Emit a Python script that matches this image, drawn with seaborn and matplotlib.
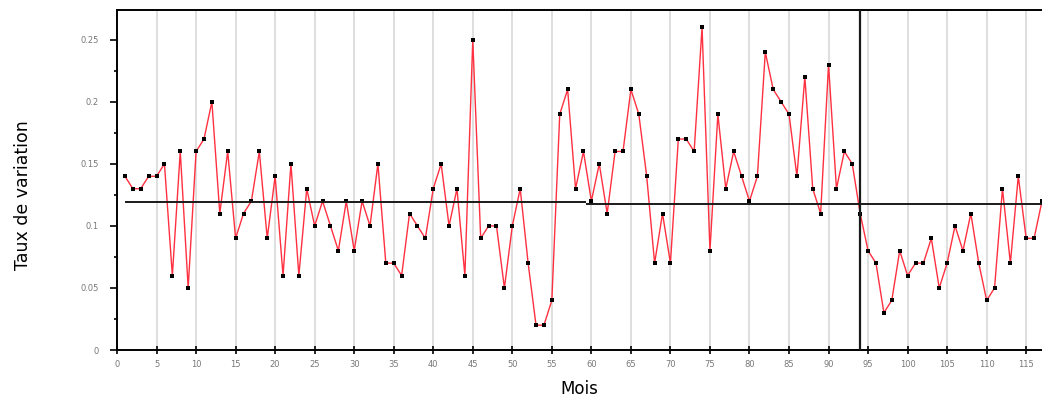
import numpy as np
import pandas as pd
import matplotlib
matplotlib.use("Agg")
import matplotlib.pyplot as plt
import seaborn as sns

# ---- data ----
months = list(range(1, 118))
rates = [
    0.14, 0.13, 0.13, 0.14, 0.14, 0.15, 0.06, 0.16, 0.05, 0.16,   # 1-10
    0.17, 0.20, 0.11, 0.16, 0.09, 0.11, 0.12, 0.16, 0.09, 0.14,   # 11-20
    0.06, 0.15, 0.06, 0.13, 0.10, 0.12, 0.10, 0.08, 0.12, 0.08,   # 21-30
    0.12, 0.10, 0.15, 0.07, 0.07, 0.06, 0.11, 0.10, 0.09, 0.13,   # 31-40
    0.15, 0.10, 0.13, 0.06, 0.25, 0.09, 0.10, 0.10, 0.05, 0.10,   # 41-50
    0.13, 0.07, 0.02, 0.02, 0.04, 0.19, 0.21, 0.13, 0.16, 0.12,   # 51-60
    0.15, 0.11, 0.16, 0.16, 0.21, 0.19, 0.14, 0.07, 0.11, 0.07,   # 61-70
    0.17, 0.17, 0.16, 0.26, 0.08, 0.19, 0.13, 0.16, 0.14, 0.12,   # 71-80
    0.14, 0.24, 0.21, 0.20, 0.19, 0.14, 0.22, 0.13, 0.11, 0.23,   # 81-90
    0.13, 0.16, 0.15, 0.11, 0.08, 0.07, 0.03, 0.04, 0.08, 0.06,   # 91-100
    0.07, 0.07, 0.09, 0.05, 0.07, 0.10, 0.08, 0.11, 0.07, 0.04,   # 101-110
    0.05, 0.13, 0.07, 0.14, 0.09, 0.09, 0.12,                     # 111-117
]
mean_starts = [1, 59.3]
mean_ends = [59.3, 117]
mean_values = [0.119, 0.1175]
break_month = 94
x_ticks = list(range(0, 120, 5))
y_ticks = [0, 0.05, 0.1, 0.15, 0.2, 0.25]
y_tick_labels = ["0", "0.05", "0.1", "0.15", "0.2", "0.25"]

df = pd.DataFrame({"Mois": months, "Taux": rates})

sns.set_style("white")
plt.rcParams['font.family'] = ['DejaVu Sans']

fig = plt.figure(figsize=(10.42, 4.0), dpi=100)
ax = fig.add_axes([0.1123, 0.125, 0.8877, 0.85])

for xt in x_ticks[1:]:
    ax.axvline(xt, color="#d9d9d9", lw=1.2, zorder=0)

sns.lineplot(data=df, x="Mois", y="Taux", ax=ax, color="#ff3040", lw=1.0,
             marker="s", markersize=2.4, markerfacecolor="black",
             markeredgecolor="black", markeredgewidth=0, zorder=3)

for s, e, v in zip(mean_starts, mean_ends, mean_values):
    ax.hlines(v, s, e, color="#1a1a1a", lw=1.4, zorder=4)
ax.axvline(break_month, color="#1a1a1a", lw=1.6, zorder=4)

ax.set_xlim(0, 117)
ax.set_ylim(0, 0.274)
ax.set_xticks(x_ticks)
ax.set_xticklabels([str(t) for t in x_ticks], fontsize=6, color="#777777")
ax.set_yticks(y_ticks)
ax.set_yticklabels(y_tick_labels, fontsize=6, color="#777777")
ax.set_yticks(np.arange(0.025, 0.27, 0.05), minor=True)

ax.tick_params(axis="y", which="major", direction="out", length=5, width=1.2, color="black", pad=8, left=True)
ax.tick_params(axis="y", which="minor", direction="out", length=2.5, width=1.2, color="black", left=True)
ax.tick_params(axis="x", which="major", direction="inout", length=6, width=1.2, color="black", pad=4, bottom=True)

for side in ["left", "bottom", "top"]:
    ax.spines[side].set_visible(True)
    ax.spines[side].set_color("black")
    ax.spines[side].set_linewidth(1.4)
ax.spines["right"].set_visible(False)

ax.set_xlabel("Mois", fontsize=12, color="black", labelpad=8)
ax.set_ylabel("Taux de variation", fontsize=12.5, color="black")
ax.yaxis.set_label_coords(-0.092, 0.456)

fig.savefig("out.png", dpi=100)
